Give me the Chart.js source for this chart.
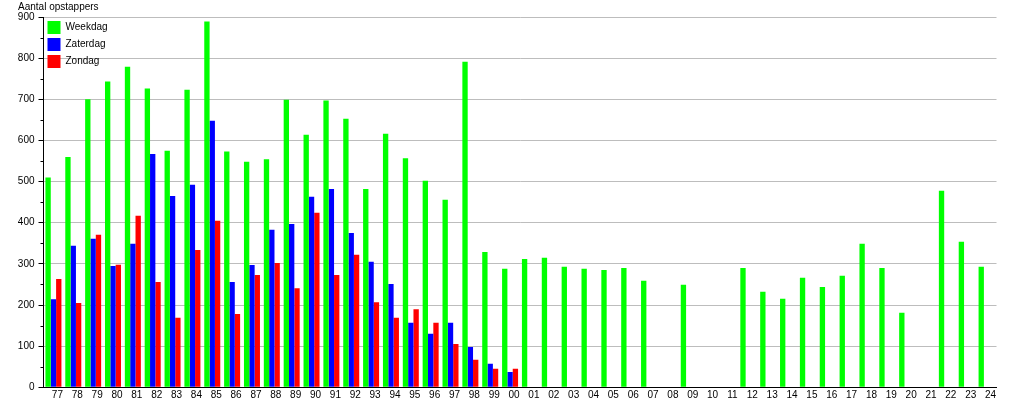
<!DOCTYPE html>
<html>
<head>
<meta charset="utf-8">
<script src="https://cdn.jsdelivr.net/npm/chart.js@4/dist/chart.umd.min.js"></script>
<style>
  html, body { margin: 0; padding: 0; background: #fff; }
  #wrap { width: 1015px; height: 400px; position: relative; }
</style>
</head>
<body>
<div id="wrap"><canvas id="c" width="1015" height="400"></canvas></div>
<script>
const yAxisTitle = 'Aantal opstappers';
const categories = ['77','78','79','80','81','82','83','84','85','86','87','88','89','90','91','92','93','94','95','96','97','98','99','00','01','02','03','04','05','06','07','08','09','10','11','12','13','14','15','16','17','18','19','20','21','22','23','24'];
const seriesNames = ['Weekdag', 'Zaterdag', 'Zondag'];
const weekdag = [510,560,700,743,779,726,575,723,889,573,548,554,699,614,697,653,482,616,557,502,456,791,329,288,312,315,293,288,285,290,259,null,249,null,null,290,232,215,266,244,271,349,290,181,null,478,354,293];
const zaterdag = [214,344,361,295,349,567,465,492,648,256,297,383,397,463,482,375,305,251,157,130,157,98,57,37,null,null,null,null,null,null,null,null,null,null,null,null,null,null,null,null,null,null,null,null,null,null,null,null];
const zondag = [263,205,371,298,417,256,169,334,405,178,273,302,241,424,273,322,207,169,190,157,105,67,45,45,null,null,null,null,null,null,null,null,null,null,null,null,null,null,null,null,null,null,null,null,null,null,null,null];
const yTickValues = [0,100,200,300,400,500,600,700,800,900];

const FONT = "'Liberation Sans', Arial, sans-serif";

const titlePlugin = {
  id: 'axisTitleTop',
  afterDraw(chart) {
    const ctx = chart.ctx;
    ctx.save();
    ctx.font = '10px ' + FONT;
    ctx.fillStyle = '#000';
    ctx.textAlign = 'left';
    ctx.textBaseline = 'alphabetic';
    ctx.fillText(yAxisTitle, 18, 10);
    ctx.restore();
  }
};

const legendInAreaPlugin = {
  id: 'legendInArea',
  afterLayout(chart) {
    const lg = chart.legend;
    if (!lg) return;
    const h = lg.height;
    lg.top = chart.chartArea.top;
    lg.bottom = lg.top + h;
    lg.left = chart.chartArea.left;
  }
};

const minorTickPlugin = {
  id: 'minorTicks',
  afterDraw(chart) {
    const y = chart.scales.y;
    const ctx = chart.ctx;
    ctx.save();
    ctx.strokeStyle = '#000';
    ctx.lineWidth = 1;
    for (let i = 0; i < yTickValues.length - 1; i++) {
      const v = (yTickValues[i] + yTickValues[i + 1]) / 2;
      const py = Math.round(y.getPixelForValue(v)) + 0.5;
      ctx.beginPath();
      ctx.moveTo(y.right - 3, py);
      ctx.lineTo(y.right, py);
      ctx.stroke();
    }
    ctx.restore();
  }
};

new Chart(document.getElementById('c'), {
  type: 'bar',
  data: {
    labels: categories,
    datasets: [
      { label: seriesNames[0], data: weekdag, backgroundColor: '#00ff00', borderWidth: 0 },
      { label: seriesNames[1], data: zaterdag, backgroundColor: '#0000ff', borderWidth: 0 },
      { label: seriesNames[2], data: zondag, backgroundColor: '#ff0000', borderWidth: 0 }
    ]
  },
  options: {
    responsive: false,
    animation: false,
    devicePixelRatio: 1,
    layout: { padding: { top: 17, right: 18.5, bottom: 0, left: 0 } },
    datasets: { bar: { categoryPercentage: 0.806, barPercentage: 1.0 } },
    plugins: {
      legend: {
        position: 'chartArea',
        align: 'start',
        labels: {
          boxWidth: 13,
          boxHeight: 13,
          padding: 4,
          color: '#000',
          font: { family: FONT, size: 10 }
        }
      },
      tooltip: { enabled: false },
      title: { display: false }
    },
    scales: {
      x: {
        offset: true,
        grid: { display: false, drawTicks: false },
        border: { display: true, color: '#000', width: 1 },
        ticks: {
          autoSkip: false,
          maxRotation: 0,
          minRotation: 0,
          padding: 2,
          labelOffset: 4,
          color: '#000',
          font: { family: FONT, size: 10 }
        },
        afterFit(scale) { scale.height = 12.7; }
      },
      y: {
        min: 0,
        max: 900,
        afterBuildTicks(scale) { scale.ticks = yTickValues.map(v => ({ value: v })); },
        grid: {
          color: '#bdbdbd',
          lineWidth: 1,
          drawTicks: true,
          tickLength: 5,
          tickColor: '#000'
        },
        border: { display: true, color: '#000', width: 1 },
        ticks: {
          padding: 4,
          color: '#000',
          font: { family: FONT, size: 10 }
        },
        afterFit(scale) { scale.width = 43.5; }
      }
    }
  },
  plugins: [legendInAreaPlugin, titlePlugin, minorTickPlugin]
});
</script>
</body>
</html>
